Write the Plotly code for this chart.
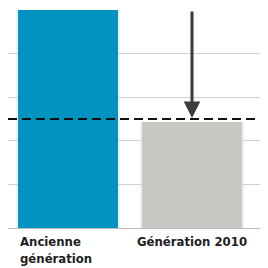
import plotly.graph_objects as go

categories = ["Ancienne<br>génération", "Génération 2010"]
x_pos = [0, 1]
values = [5.0, 2.43]
colors = ["#0093c0", "#c8c9c4"]
reference = 2.5
y_ticks = [0, 1, 2, 3, 4, 5]

FONT = "DejaVu Sans Condensed, Liberation Sans Narrow, Arial Narrow, sans-serif"

fig = go.Figure()
# soft shadow
for xp, v in zip(x_pos, values):
    fig.add_shape(type="rect", x0=xp - 0.42, x1=xp + 0.42, y0=-0.03, y1=v,
                  xref="x", yref="y", fillcolor="rgba(0,0,0,0.06)", line_width=0, layer="below")
fig.add_trace(go.Bar(x=x_pos, y=values, marker_color=colors, width=0.806,
                     marker_line_width=0, hoverinfo="skip"))

fig.add_shape(type="line", xref="paper", yref="y", x0=0, x1=1, y0=reference, y1=reference,
              line=dict(color="#111111", width=2, dash="9px,5px"))

fig.add_annotation(x=1, y=reference, ax=1, ay=values[0], xref="x", yref="y", axref="x", ayref="y",
                   showarrow=True, arrowhead=2, arrowsize=1.1, arrowwidth=3, arrowcolor="#3a3c40",
                   standoff=1, text="")

for xp, lab in zip(x_pos, categories):
    fig.add_annotation(x=xp - 0.403 - (0.06 if xp == 1 else 0), y=0, xref="x", yref="y", text="<b>" + lab + "</b>",
                       showarrow=False, xanchor="left", yanchor="top", align="left", yshift=-4,
                       font=dict(family=FONT, size=13, color="#1e1e1e"))

fig.update_layout(
    width=260, height=260, margin=dict(l=0, r=0, t=2, b=40),
    paper_bgcolor="white", plot_bgcolor="white", showlegend=False,
    xaxis=dict(range=[-0.484, 1.613], showticklabels=False, showgrid=False, zeroline=False),
    yaxis=dict(range=[0, 5], tickvals=y_ticks, showticklabels=False, showgrid=True,
               gridcolor="#d0d0d0", gridwidth=1, zeroline=True, zerolinecolor="#bbbbbb", zerolinewidth=1),
)
fig.write_html("out.html")
